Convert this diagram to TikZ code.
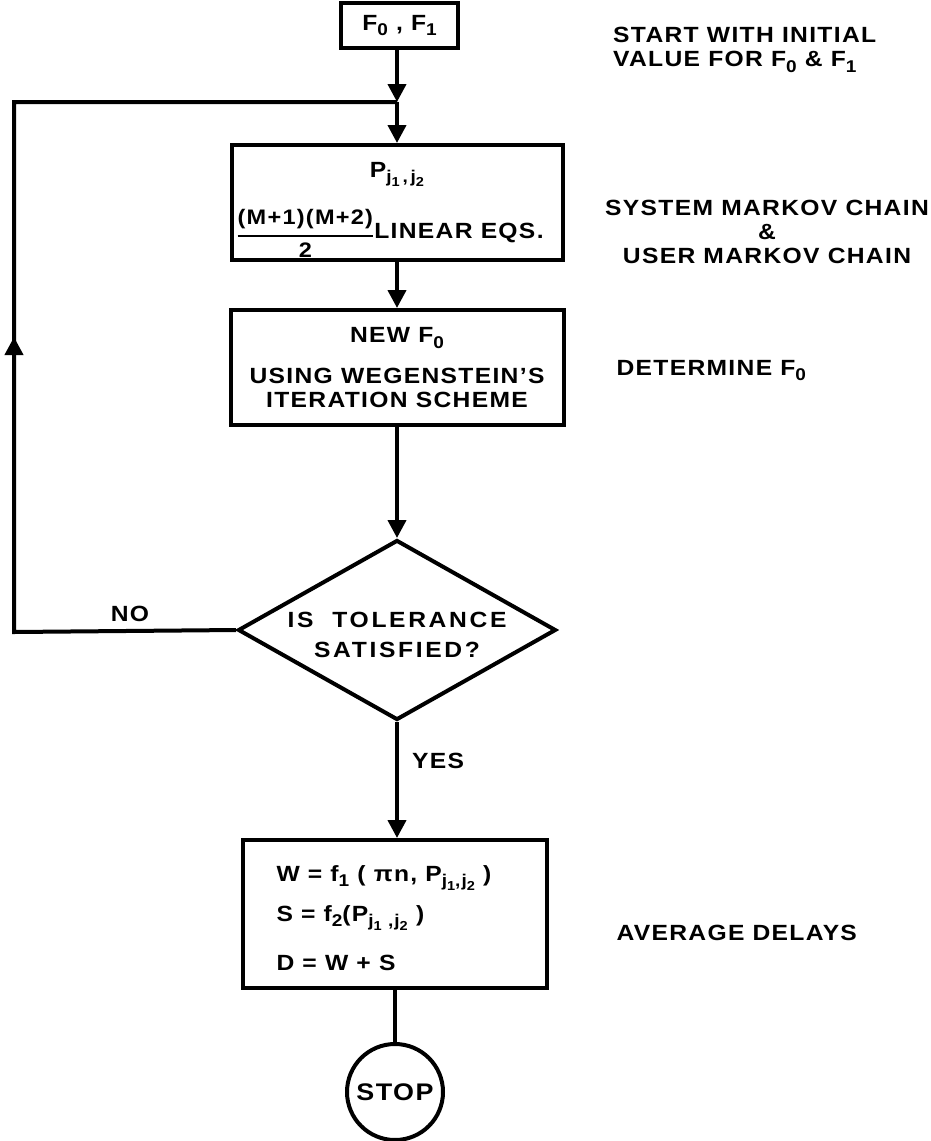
\documentclass[tikz,border=0pt]{standalone}
\usepackage{fontspec}
\usepackage{amsmath}
\setmainfont{Liberation Sans}[FakeStretch=1.12, LetterSpace=6]
\usetikzlibrary{shapes.geometric,arrows.meta}

% lowered indices in the lettering style
\newcommand\bsub[1]{\raisebox{-0.5ex}{\fontsize{17}{17}\selectfont #1}}
\newcommand\ssub[1]{\raisebox{-0.45ex}{\fontsize{13}{13}\selectfont #1}}

\begin{document}
\begin{tikzpicture}[x=1pt,y=-1pt,
  every node/.style={font=\fontsize{22}{24}\selectfont\bfseries},
  box/.style={draw, rectangle, line width=4pt, inner sep=0pt},
  link/.style={line width=4pt},
  arr/.style={link, -{Triangle[length=18pt,width=18pt]}},
]
\fill[white] (0,0) rectangle (931,1141);
\useasboundingbox (0,0) rectangle (931,1141);

% main column
\node[box, minimum width=117pt, minimum height=45pt] (init) at (399.5,25.5) {F\bsub{0} , F\bsub{1}};
\coordinate (join) at (397,102);
\coordinate (loopTL) at (14,102);
\coordinate (loopBL) at (14,632);
\coordinate (loopUp) at (14,337);

\node[box, minimum width=331pt, minimum height=115pt] (markov) at (397,202.5) {};
\node[anchor=base] (pj) at (397,177) {P\bsub{j\ssub{1}\,,\,j\ssub{2}}};
\node[anchor=base] (lin) at (390,238)
  {\raisebox{-3.5pt}{$\genfrac{}{}{2pt}{0}{\text{\fontsize{21}{21}\selectfont (M+1)(M+2)}}{\text{\fontsize{21}{21}\selectfont 2}}$}LINEAR EQS.};

\node[box, minimum width=333pt, minimum height=115pt, align=center] (newf) at (397,367.5)
  {NEW F\bsub{0}\\[17pt]USING WEGENSTEIN'S\\ITERATION SCHEME};

\node[draw, diamond, line width=4pt, minimum width=318pt, minimum height=180pt, inner sep=0pt] (test) at (397,630) {};
\node[align=center] (testtxt) at (397,635)
  {\addfontfeature{LetterSpace=12}IS\ \ TOLERANCE\\[6pt]\addfontfeature{LetterSpace=12}SATISFIED?};

\node[box, minimum width=304pt, minimum height=148pt] (delay) at (395,914) {};
\node[anchor=base west] (wline) at (273,881) {W = f\bsub{1} ( πn, P\bsub{j\ssub{1},j\ssub{2}}\ )};
\node[anchor=base west] (sline) at (273,921) {S = f\bsub{2}(P\bsub{j\ssub{1} ,j\ssub{2}} )};
\node[anchor=base west] (dline) at (273,970) {D = W + S};

\node[draw, circle, line width=4pt, minimum size=96pt, inner sep=0pt,
      font=\fontsize{24}{24}\selectfont\bfseries] (stop) at (395,1092) {STOP};

% branch labels
\node[anchor=base] (no) at (130,621) {NO};
\node[anchor=base] (yes) at (438,768) {YES};

% notes on the right
\node[anchor=north west, align=left, inner sep=0pt] (n1) at (613,27)
  {START WITH INITIAL\\VALUE FOR F\bsub{0} \& F\bsub{1}};
\node[anchor=north, align=center, inner sep=0pt] (n2) at (767,200)
  {SYSTEM MARKOV CHAIN\\\&\\USER MARKOV CHAIN};
\node[anchor=base west] (n3) at (613,375) {DETERMINE F\bsub{0}};
\node[anchor=base west] (n4) at (613,940) {AVERAGE DELAYS};

% connectors
\draw[arr] (init.south -| join) -- (join);
\draw[arr] (join) -- (join |- markov.north);
\draw[arr] (markov) -- (newf);
\draw[arr] (newf) -- (test);
\draw[arr] (test.south) -- (test.south |- delay.north);
\draw[link] (delay.south -| stop) -- (stop);
\draw[link] (test.west) -- (loopBL) -- (loopTL) -- (join);
\draw[arr] (loopBL) -- (loopUp);
\end{tikzpicture}
\end{document}
